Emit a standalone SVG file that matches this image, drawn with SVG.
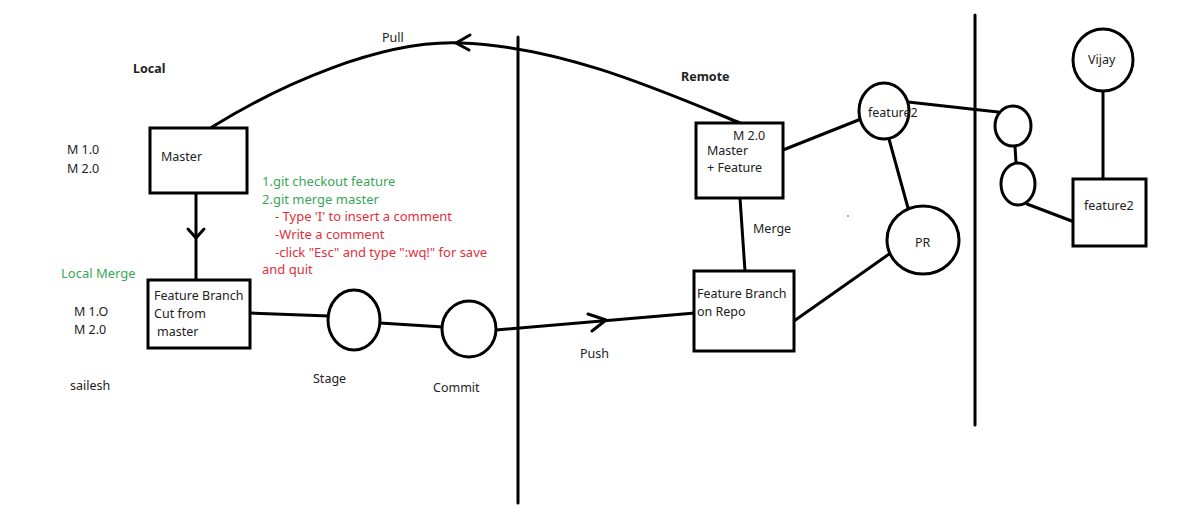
<svg xmlns="http://www.w3.org/2000/svg" width="1192" height="521" viewBox="0 0 1192 521">
<style>
.s{fill:none;stroke:#000;stroke-width:3;stroke-linecap:round;stroke-linejoin:round}
.box{fill:#fff;stroke:#000;stroke-width:3}
.t{font-family:"Noto Sans","Open Sans",sans-serif;font-size:12.5px;fill:#222}
.b{font-weight:bold}
.g{fill:#3aa657;font-size:13px}
.r{fill:#e0303a;font-size:13px}
</style>
<rect width="1192" height="521" fill="#fff"/>
<g id="dividers">
<line class="s" x1="518" y1="37" x2="518" y2="503"/>
<line class="s" x1="975" y1="15" x2="975" y2="425"/>
</g>
<g id="connectors">
<path class="s" d="M212,127 C280,85 380,40 460,43 C560,46 660,90 740,123"/>
<path class="s" d="M470,35 L456,43 L469,50"/>
<line class="s" x1="196" y1="193" x2="196" y2="280"/>
<path class="s" d="M188,229 L196,238 L204,229"/>
<line class="s" x1="250" y1="313" x2="329" y2="316"/>
<line class="s" x1="380" y1="323" x2="443" y2="327"/>
<line class="s" x1="496" y1="330" x2="695" y2="313"/>
<path class="s" d="M588,314 L606,320 L592,331"/>
<line class="s" x1="740" y1="198" x2="745" y2="271"/>
<line class="s" x1="783" y1="150" x2="861" y2="119"/>
<line class="s" x1="908" y1="102" x2="998" y2="112"/>
<line class="s" x1="889" y1="139" x2="908" y2="208"/>
<line class="s" x1="892" y1="252" x2="794" y2="321"/>
<line class="s" x1="1015" y1="146" x2="1016" y2="163"/>
<line class="s" x1="1027" y1="204" x2="1077" y2="223"/>
<line class="s" x1="1103" y1="91" x2="1103" y2="179"/>
</g>
<g id="labels">
<text class="t b" x="133" y="73">Local</text>
<text class="t b" x="681" y="81">Remote</text>
<text class="t" x="382" y="42">Pull</text>
<text class="t" x="67" y="154">M 1.0</text>
<text class="t" x="67" y="173">M 2.0</text>
<text class="t g" x="61" y="278">Local Merge</text>
<text class="t" x="74" y="316">M 1.O</text>
<text class="t" x="74" y="334">M 2.0</text>
<text class="t" x="70" y="390">sailesh</text>
<text class="t" x="313" y="383">Stage</text>
<text class="t" x="433" y="392">Commit</text>
<text class="t" x="580" y="358">Push</text>
<text class="t" x="753" y="233">Merge</text>
<circle cx="848" cy="216" r="0.8" fill="#444"/>
<text class="t g" x="262" y="186">1.git checkout feature</text>
<text class="t g" x="262" y="204">2.git merge master</text>
<text class="t r" x="275" y="221">- Type 'I' to insert a comment</text>
<text class="t r" x="275" y="239">-Write a comment</text>
<text class="t r" x="275" y="257">-click "Esc" and type ":wq!" for save</text>
<text class="t r" x="262" y="274">and quit</text>
</g>
<g id="master">
<rect class="box" x="150" y="128" width="97" height="65"/>
<text class="t" x="161" y="161">Master</text>
</g>
<g id="feature-branch">
<rect class="box" x="148" y="280" width="102" height="68"/>
<text class="t" x="154" y="300">Feature Branch</text>
<text class="t" x="154" y="318">Cut from</text>
<text class="t" x="157" y="336">master</text>
</g>
<g id="stage">
<ellipse class="box" cx="354" cy="320" rx="26" ry="30"/>
</g>
<g id="commit">
<ellipse class="box" cx="469" cy="329" rx="27" ry="28"/>
</g>
<g id="master-feature">
<rect class="box" x="696" y="123" width="87" height="75"/>
<text class="t" x="733" y="140">M 2.0</text>
<text class="t" x="707" y="155">Master</text>
<text class="t" x="707" y="172">+ Feature</text>
</g>
<g id="feature-branch-repo">
<rect class="box" x="694" y="271" width="100" height="80"/>
<text class="t" x="697" y="298">Feature Branch</text>
<text class="t" x="697" y="316">on Repo</text>
</g>
<g id="feature2-circle">
<ellipse class="box" cx="884" cy="111" rx="25" ry="28"/>
<text class="t" x="868" y="117">feature2</text>
</g>
<g id="pr">
<ellipse class="box" cx="923" cy="240" rx="36" ry="34"/>
<text class="t" x="915" y="247">PR</text>
</g>
<g id="small1">
<ellipse class="box" cx="1013" cy="126" rx="18" ry="20"/>
</g>
<g id="small2">
<ellipse class="box" cx="1018" cy="184" rx="17" ry="21"/>
</g>
<g id="vijay">
<ellipse class="box" cx="1103" cy="60" rx="30" ry="31"/>
<text class="t" x="1088" y="64">Vijay</text>
</g>
<g id="feature2-box">
<rect class="box" x="1073" y="179" width="73" height="67"/>
<text class="t" x="1084" y="210">feature2</text>
</g>
</svg>
